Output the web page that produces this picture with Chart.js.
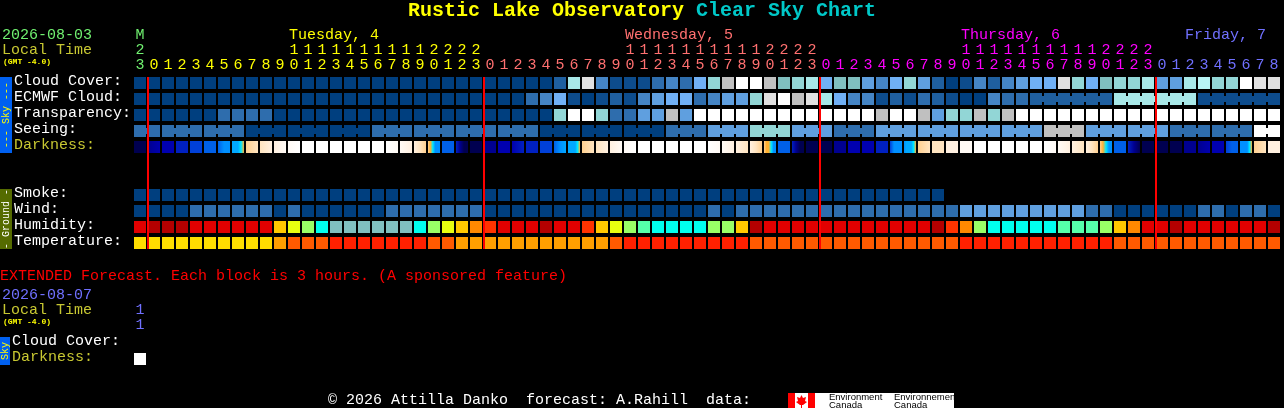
<!DOCTYPE html>
<html>
<head>
<meta charset="utf-8">
<title>Rustic Lake Observatory Clear Sky Chart</title>
<script src="https://cdn.jsdelivr.net/npm/chart.js@4"></script>
<style>
body { margin: 0; background: #000; overflow: hidden; }
canvas { position: absolute; left: 0; }
#mainChart { top: 0; }
#extChart { top: 300px; }
</style>
</head>
<body>
<canvas id="mainChart" width="1284" height="408"></canvas>
<canvas id="extChart" width="150" height="95"></canvas>
<script>
const FONT = "'Liberation Mono', monospace";

let hours = [23,
    0,1,2,3,4,5,6,7,8,9,10,11,12,13,14,15,16,17,18,19,20,21,22,23,
    0,1,2,3,4,5,6,7,8,9,10,11,12,13,14,15,16,17,18,19,20,21,22,23,
    0,1,2,3,4,5,6,7,8,9,10,11,12,13,14,15,16,17,18,19,20,21,22,23,
    0,1,2,3,4,5,6,7,8];
let rowLabels = ["Cloud Cover:", "ECMWF Cloud:", "Transparency:", "Seeing:", "Darkness:", "", "",
    "Smoke:", "Wind:", "Humidity:", "Temperature:"];

// sky colours, dark blue = good, white = bad
let skyPalette = ["#003f7f", "#0d4c8c", "#1f5f9f", "#2e6dad", "#4585c5", "#5f9fdf", "#70b0f5",
    "#80bfbf", "#92d6d6", "#a8e8e8", "#b8f5f5", "#c0c0c0", "#e0e0e0", "#ffffff"];
let humidityPalette = ["#b40000", "#e20000", "#ff3300", "#ff8800", "#ffc800", "#e8ff10", "#99ff66",
    "#55ffaa", "#00ffee", "#80bfbf"];
let tempPalette = ["#ffdd00", "#ff9f00", "#ff5a00", "#ff2000"];
let darkPalette = ["#000050", "#000090", "#0000b0", "#0020c0", "#0040d8", "#0060e8", "#0090ff",
    "#00a8ff", "#00e8ff", "#ffb030", "#ffd090", "#ffe4c0", "#fff0e0", "#fffaf5", "#ffffff"];

let cloud = [0,0,0,0,0,0,0,0,0,0,0,0,0,0,0,0,0,0,0,0,0,0,0,0,0,0,0,0,0,0,
    2,9,12,4,1,1,1,3,4,3,6,8,11,13,13,11,7,8,9,6,7,7,
    5,4,6,8,5,2,0,1,4,2,4,5,6,6,12,8,6,7,8,8,9,5,5,9,10,8,8,13,12,12];
let ecmwf = [0,0,0,0,0,0,0,0,0,0,0,0,0,0,0,0,0,0,0,0,0,0,0,0,0,0,0,0,
    3,4,6,1,0,1,2,1,4,5,6,6,3,4,5,5,8,12,13,11,12,9,6,4,
    4,1,2,1,3,2,1,0,0,4,3,3,
    2,2,2,2,2,2, 9,9,9,9,9,9, 1,1,1,1,1,1];
let ecmwfBlocks = [1,1,1,1,1,1,1,1,1,1,1,1,1,1,1,1,1,1,1,1,1,1,1,1,1,1,1,1,1,1,1,1,
    1,1,1,1,1,1,1,1,1,1,1,1,1,1,1,1,1,1,1,1,1,1,1,1,1,1,1,1,1,1,1,1, 6,6,6];
let transparency = [0,0,0,0,0,0,3,3,3,3,0,0,0,0,0,0,0,0,0,0,0,0,0,0,0,0,0,0,0,0,
    8,13,13,8,3,3,5,5,11,5,13,13,13,13,13,13,13,13,13,13,13,13,
    13,11,13,13,11,5,8,8,11,8,11,13,13,13,13,13,13,13,13,13,13,13,13,13,13,13,13,13,13,13];
let seeing = [3,3, 3,3,3, 3,3,3, 0,0,0, 0,0,0, 0,0,0, 3,3,3, 3,3,3, 3,3,3, 3,3,3,
    0,0,0, 0,0,0, 0,0,0, 3,3,3, 5,5,5, 8,8,8, 5,5,5, 3,3,3,
    5,5,5, 5,5,5, 5,5,5, 5,5,5, 11,11,11, 5,5,5, 5,5,5, 3,3,3, 3,3,3, 13,13];
let seeingBlocks = [2,3,3,3,3,3,3,3,3,3,3,3,3,3,3,3,3,3,3,3,3,3,3,3,3,3,3,2];
// a list of stops per block, each block fades left to right
let darkness = [[0],[1,2],[2],[3],[4],[5],[5,6,6],[7,7,7,8,9],[10,11],[11,12],[12,13],[13,14],
    [14],[14],[14],[14],[14],[14],[14,13],[13,12],[12,11,10],[10,9,8,6,6,6],[5],[3,1,0,0],[0],
    [1],[2],[2,3],[3],[4],[5,6,7],[7,7,7,7,8,9],[10,11],[11,12],[12,13],[13,14],
    [14],[14],[14],[14],[14],[14,13],[13,12],[12,11],[12,11,10],[10,9,9,8,6,6],[5],[3,1,0,0],[0],
    [0],[1],[2],[2],[3],[4,6,6,6],[6,7,7,7,8,9],[10,11],[11],[12],[13],
    [14],[14],[14],[14],[14],[14,13],[13,12],[12,11],[12,11,10],[10,9,8,6,6],[5],[3,1,0],[0],
    [0],[0],[1],[1,2],[2],[4,5,5],[6,6,6,6,8,9],[10,11],[12]];
let smoke = [0,0,0,0,0,0,0,0,0,0,0,0,0,0,0,0,0,0,0,0,0,0,0,0,0,0,0,0,0,0,
    0,0,0,0,0,0,0,0,0,0,0,0,0,0,0,0,0,0,0,0,0,0,0,0,0,0,0,0,
    null,null,null,null,null,null,null,null,null,null,null,null,null,null,null,null,null,null,null,null,null,null,null,null];
let wind = [0,0,0,0,3,3,3,3,3,3,0,3,0,0,0,0,0,0,3,3,3,3,3,3,3,0,0,0,0,0,0,0,0,0,0,0,0,0,0,0,0,
    3,0,3,3,3,3,3,3,3,3,3,3,3,3,3,3,3,3,5,5,5,5,5,5,5,5,5,3,3,0,0,0,0,0,0,3,3,0,3,3,0];
let humidity = [1,0,0,0,1,1,1,1,1,1,4,5,6,8,9,9,9,9,9,9,8,
    6,5,4,3,2,1,1,1,0,1,1,2,4,5,6,7,8,8,8,8,6,6,4,0,1,1,1,1,1,1,1,
    1,1,1,1,1,0,2,3,6,8,8,8,8,8,7,7,7,6,4,3,1,1,0,1,1,1,1,1,1,0];
let temperature = [0,0,0,0,0,0,0,0,0,0,1,2,2,2,3,3,3,3,3,3,3,
    2,2,1,1,1,1,1,1,1,1,1,1,1,2,3,3,3,3,3,3,3,3,3,2,2,2,2,2,2,2,2,
    2,2,2,2,2,2,2,3,3,3,3,3,3,3,3,3,3,3,2,2,2,2,2,2,2,2,2,2,2,2];

let extRowLabels = ["Cloud Cover:", "Darkness:"];
let extHours = [["1", "1"]];
let extDarkness = [13];

function tickLabel(h, i) {
    let lines = h < 10 ? ["" + h] : [("" + h)[0], ("" + h)[1]];
    return i === 0 ? ["M"].concat(lines) : lines;
}
let tickLabels = hours.map(tickLabel);

function tickColor(i) {
    if (i === 0) return "#70f070";
    if (i < 25) return "#ffff00";
    if (i < 49) return "#ff7070";
    if (i < 73) return "#ff00ff";
    return "#7070ff";
}

function rowBars(row, values, palette) {
    return {
        type: "bar",
        data: values.map(v => v === null ? null : [row - 0.375, row + 0.375]),
        backgroundColor: values.map(v => v === null ? "transparent" : palette[v]),
        barPercentage: 12 / 14,
        categoryPercentage: 1,
        grouped: false
    };
}

function blockIds(blocks) {
    let ids = [];
    blocks.forEach((n, b) => { for (let i = 0; i < n; i++) ids.push(b); });
    return ids;
}

// the narrow bridge that joins blocks covering the same forecast step
function rowBridge(row, values, blocks) {
    let ids = blockIds(blocks);
    return {
        type: "line",
        data: values.map(() => row),
        borderWidth: 6,
        borderCapStyle: "butt",
        pointRadius: 0,
        tension: 0,
        segment: {
            borderColor: c => ids[c.p0DataIndex] === ids[c.p1DataIndex] ? skyPalette[values[c.p0DataIndex]] : "transparent"
        }
    };
}

function darkFill(c) {
    if (c.dataIndex === undefined) return "#000";
    let stops = darkness[c.dataIndex];
    if (stops.length === 1) return darkPalette[stops[0]];
    let cx = c.chart.scales.x.getPixelForValue(c.dataIndex);
    let g = c.chart.ctx.createLinearGradient(cx - 6, 0, cx + 6, 0);
    stops.forEach((s, i) => g.addColorStop(i / (stops.length - 1), darkPalette[s]));
    return g;
}

let darknessBars = rowBars(4, darkness, darkPalette);
darknessBars.backgroundColor = darkFill;

let yellowish = "#c8c832";
let pageTexts = [
    ["2026-08-03", 2, 35, "#70f070"],
    ["Local Time", 2, 50, yellowish],
    ["Tuesday, 4", 289, 35, "#ffff00"],
    ["Wednesday, 5", 625, 35, "#ff7070"],
    ["Thursday, 6", 961, 35, "#ff00ff"],
    ["Friday, 7", 1185, 35, "#7070ff"],
    ["EXTENDED Forecast. Each block is 3 hours. (A sponsored feature)", 0, 276, "#ff0000"],
    ["2026-08-07", 2, 295, "#7070ff"],
    ["Local Time", 2, 310, yellowish],
    ["\u00a9 2026 Attilla Danko  forecast: A.Rahill  data:", 328, 400, "#ffffff"]
];

function sideBadge(c, text, top, h, w, fill, color) {
    c.fillStyle = fill;
    c.fillRect(0, top, w, h);
    c.save();
    c.translate(w / 2, top + h / 2);
    c.rotate(-Math.PI / 2);
    c.font = "10px " + FONT;
    c.fillStyle = color;
    c.textAlign = "center";
    c.textBaseline = "middle";
    c.fillText(text, 0, 0);
    c.restore();
}

let pageTextPlugin = {
    id: "pageText",
    afterDraw(chart) {
        let c = chart.ctx;
        c.save();
        c.textBaseline = "middle";
        c.textAlign = "left";
        c.font = "bold 20px " + FONT;
        c.fillStyle = "#ffff00";
        c.fillText("Rustic Lake Observatory", 408, 11);
        c.fillStyle = "#00c8c8";
        c.fillText("Clear Sky Chart", 696, 11);
        c.font = "15px " + FONT;
        pageTexts.forEach(t => {
            c.fillStyle = t[3];
            c.fillText(t[0], t[1], t[2]);
        });
        c.font = "bold 8px " + FONT;
        c.fillStyle = "#ffff00";
        c.fillText("(GMT -4.0)", 3, 62);
        c.fillText("(GMT -4.0)", 3, 322);
        sideBadge(c, "--- Sky ---", 77, 76, 12, "#0060f0", "#ffff00");
        sideBadge(c, "- Ground -", 189, 60, 12, "#556b00", "#ffffff");
        sideBadge(c, "Sky", 337, 28, 10, "#0060f0", "#ffff00");
        // Environment Canada logo
        c.fillStyle = "#fff";
        c.fillRect(788, 393, 166, 15);
        c.fillStyle = "#ff0000";
        c.fillRect(788, 393, 7, 15);
        c.fillRect(808, 393, 7, 15);
        c.beginPath();
        [[801.5,395],[803,398],[806,397],[805,401],[807,402],[803,405],[802,405],[802,408],[801,408],[801,405],[800,405],[796,402],[798,401],[797,397],[800,398]]
            .forEach((p, i) => i ? c.lineTo(p[0], p[1]) : c.moveTo(p[0], p[1]));
        c.fill();
        c.fillStyle = "#000";
        c.font = "9.5px 'Liberation Sans', sans-serif";
        c.fillText("Environment", 829, 397);
        c.fillText("Canada", 829, 405);
        c.fillText("Environnement", 894, 397);
        c.fillText("Canada", 894, 405);
        c.restore();
    }
};

// 2px red mark at the left edge of each midnight column
let midnightPlugin = {
    id: "midnight",
    afterDatasetsDraw(chart) {
        let x = chart.scales.x, a = chart.chartArea, c = chart.ctx;
        c.save();
        c.fillStyle = "#ff0000";
        hours.forEach((h, i) => {
            if (h === 0) c.fillRect(x.getPixelForValue(i) - 7, a.top, 2, a.bottom - a.top);
        });
        c.restore();
    }
};

let mainChart = new Chart(document.getElementById("mainChart").getContext("2d"), {
    data: {
        labels: tickLabels,
        datasets: [
            rowBars(0, cloud, skyPalette),
            rowBars(1, ecmwf, skyPalette),
            rowBridge(1, ecmwf, ecmwfBlocks),
            rowBars(2, transparency, skyPalette),
            rowBars(3, seeing, skyPalette),
            rowBridge(3, seeing, seeingBlocks),
            darknessBars,
            rowBars(7, smoke, skyPalette),
            rowBars(8, wind, skyPalette),
            rowBars(9, humidity, humidityPalette),
            rowBars(10, temperature, tempPalette)
        ]
    },
    options: {
        responsive: false,
        animation: false,
        devicePixelRatio: 1,
        layout: { padding: { left: 14, right: 3, top: 0, bottom: 159 } },
        plugins: { legend: { display: false }, tooltip: { enabled: false } },
        scales: {
            x: {
                type: "category",
                position: "top",
                offset: true,
                afterFit(s) { s.height = 77; },
                border: { display: false },
                grid: { display: false, drawTicks: false },
                ticks: {
                    autoSkip: false, maxRotation: 0, minRotation: 0, padding: 4,
                    font: { family: FONT, size: 15, lineHeight: "15px" },
                    color: c => tickColor(c.index)
                }
            },
            y: {
                type: "linear",
                reverse: true,
                min: -0.375,
                max: 10.375,
                afterFit(s) { s.width = 119; },
                border: { display: false },
                grid: { display: false, drawTicks: false },
                ticks: {
                    stepSize: 1, autoSkip: false, includeBounds: false, crossAlign: "far", padding: 0, labelOffset: -2,
                    font: { family: FONT, size: 15 },
                    color: c => c.tick.value === 4 ? yellowish : "#ffffff",
                    callback: v => rowLabels[v] || ""
                }
            }
        }
    },
    plugins: [pageTextPlugin, midnightPlugin]
});

// one column only: the sponsored extended forecast
let extChart = new Chart(document.getElementById("extChart").getContext("2d"), {
    data: {
        labels: extHours,
        datasets: [rowBars(1, extDarkness, skyPalette)]
    },
    options: {
        responsive: false,
        animation: false,
        devicePixelRatio: 1,
        layout: { padding: { left: 12, right: 3, top: 0, bottom: 14 } },
        plugins: { legend: { display: false }, tooltip: { enabled: false } },
        scales: {
            x: {
                type: "category",
                position: "top",
                offset: true,
                afterFit(s) { s.height = 37; },
                border: { display: false },
                grid: { display: false, drawTicks: false },
                ticks: {
                    autoSkip: false, maxRotation: 0, minRotation: 0, padding: 4,
                    font: { family: FONT, size: 15, lineHeight: "15px" },
                    color: "#7070ff"
                }
            },
            y: {
                type: "linear",
                reverse: true,
                min: -0.375,
                max: 2.375,
                afterFit(s) { s.width = 121; },
                border: { display: false },
                grid: { display: false, drawTicks: false },
                ticks: {
                    stepSize: 1, autoSkip: false, includeBounds: false, crossAlign: "far", padding: 0, labelOffset: -2,
                    font: { family: FONT, size: 15 },
                    color: c => c.tick.value === 1 ? yellowish : "#ffffff",
                    callback: v => extRowLabels[v] || ""
                }
            }
        }
    }
});
</script>
</body>
</html>
